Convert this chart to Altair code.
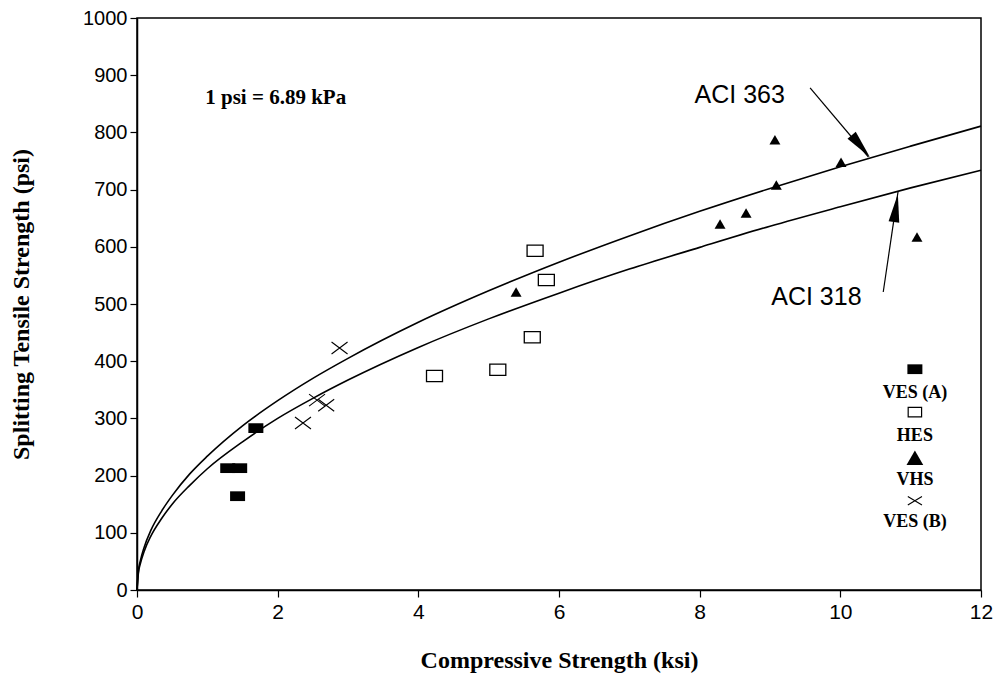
import altair as alt
import pandas as pd

# ---- data ----
curve_x = [0, 0.02, 0.05, 0.1, 0.2, 0.35, 0.5, 0.75, 1, 1.5, 2, 2.5, 3, 4, 5, 6, 7, 8, 9, 10, 11, 12]
aci363_y = [0, 33, 52, 74, 105, 138, 165, 203, 234, 287, 331, 370, 405, 468, 523, 573, 619, 662, 702, 740, 776, 811]
aci318_y = [0, 30, 47, 67, 95, 125, 150, 183, 212, 259, 300, 335, 367, 424, 474, 519, 561, 599, 636, 670, 703, 734]

vesa_x = [1.29, 1.46, 1.69, 1.43]
vesa_y = [213, 213, 283, 164]

hes_x = [5.66, 5.82, 5.62, 5.13, 4.23]
hes_y = [593, 542, 442, 385, 374]

vhs_x = [5.39, 9.07, 10.01, 9.09, 8.66, 8.29, 11.09]
vhs_y = [521, 787, 748, 708, 659, 640, 617]

vesb_x = [2.36, 2.56, 2.69, 2.88]
vesb_y = [292, 332, 323, 423]

legend_names = ["VES (A)", "HES", "VHS", "VES (B)"]
legend_sym_y = [386, 311, 231, 156]
legend_lab_y = [345, 269, 192, 119]
legend_x = 11.06

x_ticks = [0, 2, 4, 6, 8, 10, 12]
y_ticks = [0, 100, 200, 300, 400, 500, 600, 700, 800, 900, 1000]

X = alt.X("x:Q", scale=alt.Scale(domain=[0, 12], nice=False, zero=False),
          axis=alt.Axis(values=x_ticks, format="d", title="Compressive Strength (ksi)", grid=False,
                        labelFlush=False,
                        labelFont="Liberation Sans", labelFontSize=21, labelColor="black",
                        labelPadding=4, tickColor="black", tickSize=7, domainColor="black",
                        domainWidth=1.5, tickWidth=1.2,
                        titleFont="Liberation Serif", titleFontSize=24, titleFontWeight="bold",
                        titleColor="black", titlePadding=26))
Y = alt.Y("y:Q", scale=alt.Scale(domain=[0, 1000], nice=False, zero=False),
          axis=alt.Axis(values=y_ticks, format="d", title="Splitting Tensile Strength (psi)", grid=False,
                        labelFlush=False,
                        labelFont="Liberation Sans", labelFontSize=20, labelColor="black",
                        labelPadding=3, tickColor="black", tickSize=7, domainColor="black",
                        domainWidth=1.5, tickWidth=1.2,
                        titleFont="Liberation Serif", titleFontSize=24, titleFontWeight="bold",
                        titleColor="black", titlePadding=49))

curves = pd.DataFrame({
    "x": curve_x * 2,
    "y": aci363_y + aci318_y,
    "s": ["ACI 363"] * len(curve_x) + ["ACI 318"] * len(curve_x),
})
lines = alt.Chart(curves).mark_line(color="black", strokeWidth=1.6, interpolate="monotone").encode(
    x=X, y=Y, detail="s:N")

RECT = "M-1,-0.65L1,-0.65L1,0.65L-1,0.65Z"
BOX = "M-1,-0.7L1,-0.7L1,0.7L-1,0.7Z"
CROSS = "M-1,-0.75L1,0.75M-1,0.75L1,-0.75"

vesa = alt.Chart(pd.DataFrame({"x": vesa_x, "y": vesa_y})).mark_point(
    shape=RECT, filled=True, color="black", size=225, opacity=1,
    ).encode(x="x:Q", y="y:Q")

hes = alt.Chart(pd.DataFrame({"x": hes_x, "y": hes_y})).mark_point(
    shape=BOX, filled=False, color="black", size=256,
    strokeWidth=1.3, opacity=1).encode(x="x:Q", y="y:Q")

vhs = alt.Chart(pd.DataFrame({"x": vhs_x, "y": vhs_y})).mark_point(
    shape="triangle-up", filled=True, color="black", size=120, opacity=1).encode(x="x:Q", y="y:Q")

vesb = alt.Chart(pd.DataFrame({"x": vesb_x, "y": vesb_y})).mark_point(
    shape=CROSS, filled=False, color="black", size=256,
    strokeWidth=1.1, opacity=1).encode(x="x:Q", y="y:Q")

# legend (manual, inside plot)
leg_a = alt.Chart(pd.DataFrame({"x": [legend_x], "y": [legend_sym_y[0]]})).mark_point(
    shape=RECT, filled=True, color="black", size=225, opacity=1
    ).encode(x="x:Q", y="y:Q")
leg_h = alt.Chart(pd.DataFrame({"x": [legend_x], "y": [legend_sym_y[1]]})).mark_point(
    shape=BOX, filled=False, color="black", size=180,
    strokeWidth=1.2, opacity=1).encode(x="x:Q", y="y:Q")
leg_v = alt.Chart(pd.DataFrame({"x": [legend_x], "y": [legend_sym_y[2]]})).mark_point(
    shape="triangle-up", filled=True, color="black", size=280, opacity=1).encode(x="x:Q", y="y:Q")
leg_b = alt.Chart(pd.DataFrame({"x": [legend_x], "y": [legend_sym_y[3]]})).mark_point(
    shape="M-1,-0.6L1,0.6M-1,0.6L1,-0.6", filled=False, color="black", size=200,
    strokeWidth=1.1, opacity=1).encode(x="x:Q", y="y:Q")
leg_text = alt.Chart(pd.DataFrame({"x": [legend_x] * 4, "y": legend_lab_y, "t": legend_names})).mark_text(
    font="Liberation Serif", fontSize=18, fontWeight="bold", color="black", align="center",
    baseline="middle").encode(x="x:Q", y="y:Q", text="t:N")

# annotations
note = alt.Chart(pd.DataFrame({"x": [0.97], "y": [860], "t": ["1 psi = 6.89 kPa"]})).mark_text(
    font="Liberation Serif", fontSize=21, fontWeight="bold", color="black", align="left",
    baseline="middle").encode(x="x:Q", y="y:Q", text="t:N")

lab = alt.Chart(pd.DataFrame({"x": [8.57, 9.66], "y": [866, 512], "t": ["ACI 363", "ACI 318"]})).mark_text(
    font="Liberation Sans", fontSize=25, color="black", align="center",
    baseline="middle").encode(x="x:Q", y="y:Q", text="t:N")

arrow_lines = alt.Chart(pd.DataFrame({
    "x": [9.57, 10.61], "y": [878, 521], "x2": [10.40, 10.82], "y2": [757, 696]})).mark_rule(
    color="black", strokeWidth=1.2).encode(x="x:Q", y="y:Q", x2="x2:Q", y2="y2:Q")

arrow_heads = alt.Chart(pd.DataFrame({"x": [10.29, 10.79], "y": [776, 668], "a": [140, 8]})).mark_point(
    shape="M0,-1L0.38,1L-0.38,1Z", filled=True, color="black", size=800, opacity=1
    ).encode(x="x:Q", y="y:Q", angle=alt.Angle("a:Q", scale=None))

chart = alt.layer(
    lines, vesa, hes, vhs, vesb, leg_a, leg_h, leg_v, leg_b, leg_text, note, lab, arrow_lines, arrow_heads
).properties(
    width=844, height=572,
    autosize=alt.AutoSizeParams(type="none"),
    padding={"left": 129, "top": 10, "right": 13, "bottom": 86},
    background="white",
).configure_view(stroke="black", strokeWidth=1.5)

chart.save("out.html", embed_options={"renderer": "svg", "actions": False})
